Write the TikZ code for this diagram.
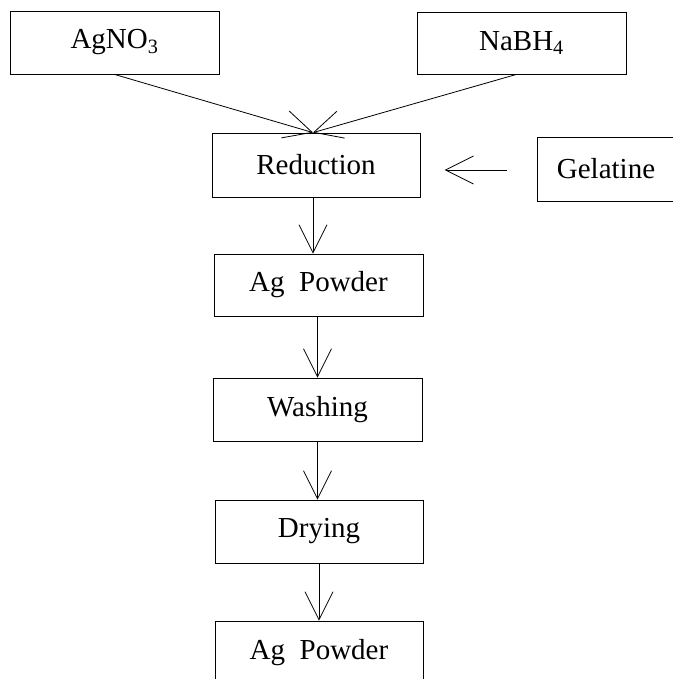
\documentclass[tikz,border=0pt]{standalone}
\usepackage{fontspec}
\setmainfont{Liberation Serif}
\usetikzlibrary{arrows.meta}
\begin{document}
\begin{tikzpicture}[x=1pt,y=-1pt,
  box/.style={draw,line width=0.8pt,rectangle,inner sep=0pt,font=\fontsize{29}{32}\selectfont},
  arr/.style={line width=0.8pt,-{Straight Barb[length=28pt,width=28pt,line width=0.8pt]}}]
\useasboundingbox (0,0) rectangle (672,679);
\node[box,minimum width=209pt,minimum height=63pt] (ag) at (114.5,42.5) {AgNO\textsubscript{3}};
\node[box,minimum width=209pt,minimum height=62pt] (na) at (521.5,43) {NaBH\textsubscript{4}};
\node[box,minimum width=208pt,minimum height=64pt] (red) at (316,165) {Reduction};
\node[box,minimum width=138pt,minimum height=64pt] (gel) at (606,169) {Gelatine};
\node[box,minimum width=209pt,minimum height=62pt] (p1) at (318.5,285) {Ag\hspace{0.5em}Powder};
\node[box,minimum width=209pt,minimum height=63pt] (wash) at (317.5,409.5) {Washing};
\node[box,minimum width=208pt,minimum height=63pt] (dry) at (319,531.5) {Drying};
\node[box,minimum width=208pt,minimum height=63pt] (p2) at (319,652.5) {Ag\hspace{0.5em}Powder};
\coordinate (meet) at ([xshift=-3pt]red.north);
\draw[arr] (ag.south) -- (meet);
\draw[arr] ([xshift=-5pt]na.south) -- (meet);
\draw[arr] ([xshift=-30pt,yshift=-1pt]gel.west) -- ++(-62,0);
\draw[arr] ([xshift=-3pt]red.south) -- ([xshift=-3pt]red.south |- p1.north);
\draw[arr] ([xshift=-1pt]p1.south) -- ([xshift=-1pt]p1.south |- wash.north);
\draw[arr] (wash.south) -- (wash.south |- dry.north);
\draw[arr] (dry.south) -- (dry.south |- p2.north);
\end{tikzpicture}
\end{document}
